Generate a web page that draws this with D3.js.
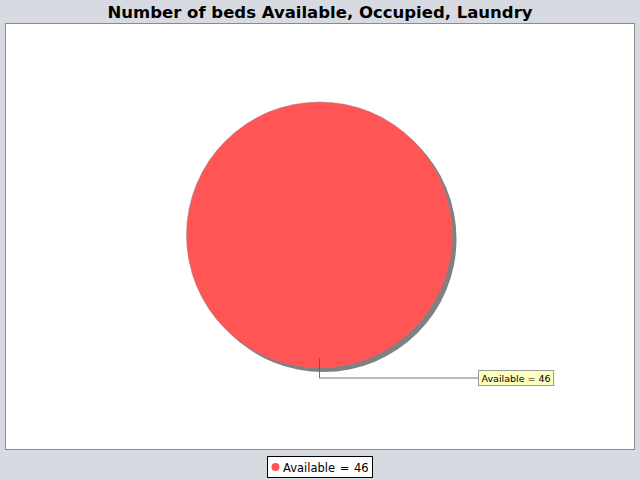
<!DOCTYPE html>
<html><head><meta charset="utf-8">
<script src="https://cdn.jsdelivr.net/npm/d3@7"></script>
<style>html,body{margin:0;padding:0;background:#d7dae1;}svg{display:block;}</style>
</head><body>
<script>
const title = "Number of beds Available, Occupied, Laundry";
const categories = ["Available", "Occupied", "Laundry"];
const values = [46, 0, 0];
const colors = ["#ff5555", "#5555ff", "#55ff55"];

const W = 640, H = 480;
const svg = d3.select("body").append("svg").attr("width", W).attr("height", H);
svg.append("rect").attr("width", W).attr("height", H).attr("fill", "#d7dae1");

svg.append("text").attr("x", 320).attr("y", 18).attr("text-anchor", "middle")
  .attr("font-family", "DejaVu Sans").attr("font-weight", "bold").attr("font-size", 16.5)
  .attr("fill", "#000").text(title);

// plot area
svg.append("rect").attr("x", 5.5).attr("y", 23.5).attr("width", 629).attr("height", 426)
  .attr("fill", "#fff").attr("stroke", "#8a8a8a").attr("stroke-width", 1);

const data = categories.map((c, i) => ({cat: c, value: values[i], color: colors[i]}))
  .filter(d => d.value > 0);

const cx = 319.5, cy = 235, r = 133;
const pie = d3.pie().value(d => d.value).sort(null).startAngle(0).endAngle(2 * Math.PI);
const arcs = pie(data);
const arc = d3.arc().innerRadius(0).outerRadius(r);

// shadow
svg.append("g").attr("transform", `translate(${cx + 4},${cy + 4})`)
  .selectAll("path").data(arcs).join("path").attr("d", arc).attr("fill", "#808080");

const g = svg.append("g").attr("transform", `translate(${cx},${cy})`);
g.selectAll("path.slice").data(arcs).join("path").attr("class", "slice")
  .attr("d", arc).attr("fill", d => d.data.color)
  .attr("stroke", "#9a8080").attr("stroke-width", 0.5);
// slice seams
g.selectAll("line.seam").data(arcs).join("line").attr("class", "seam")
  .attr("x1", 0).attr("y1", 0)
  .attr("x2", d => r * Math.sin(d.startAngle)).attr("y2", d => -r * Math.cos(d.startAngle))
  .attr("stroke", "#8c8080").attr("stroke-width", 1);

// labels with links
arcs.forEach(a => {
  const mid = (a.startAngle + a.endAngle) / 2;
  const x0 = cx + (r - 10) * Math.sin(mid), y0 = cy - (r - 10) * Math.cos(mid);
  const x1 = cx + (r + 10) * Math.sin(mid), y1 = cy - (r + 10) * Math.cos(mid);
  const lx = 478;
  svg.append("path").attr("d", `M${x0},${y0}L${x1},${y1}L${lx},${y1}`)
    .attr("fill", "none").attr("stroke", "#555").attr("stroke-width", 0.8);
  const txt = `${a.data.cat} = ${a.data.value}`;
  const t = svg.append("text").attr("x", lx + 3.5).attr("y", y1 + 4)
    .attr("font-family", "DejaVu Sans").attr("font-size", 9.5).attr("fill", "#000").text(txt);
  const bb = t.node().getBBox();
  svg.insert("rect", "text:last-of-type").attr("x", lx + 0.5).attr("y", y1 - 7.5)
    .attr("width", bb.width + 6).attr("height", 15)
    .attr("fill", "#ffffc0").attr("stroke", "#999").attr("stroke-width", 1);
  t.raise();
});

// legend
const lg = svg.append("g");
const lt = lg.selectAll("text").data(data).join("text")
  .attr("y", 472).attr("font-family", "DejaVu Sans").attr("font-size", 11.5).attr("fill", "#000")
  .attr("word-spacing", 1)
  .text(d => `${d.cat} = ${d.value}`);
const lx0 = 267;
lt.attr("x", lx0 + 16);
lg.insert("rect", "text").attr("x", lx0 + 0.5).attr("y", 456.5).attr("width", 105).attr("height", 21)
  .attr("fill", "#fff").attr("stroke", "#000").attr("stroke-width", 1);
lg.selectAll("circle").data(data).join("circle").attr("cx", lx0 + 8.5).attr("cy", 467).attr("r", 4)
  .attr("fill", d => d.color);
</script>
</body></html>
